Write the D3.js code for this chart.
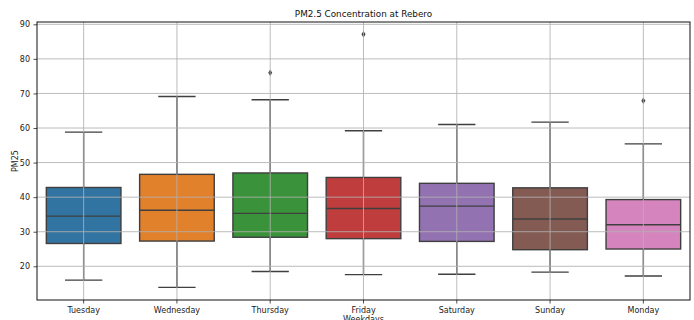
<!DOCTYPE html>
<html>
<head>
<meta charset="utf-8">
<script src="https://cdn.jsdelivr.net/npm/d3@7"></script>
<style>
  html, body { margin: 0; padding: 0; background: #fff; }
  svg { display: block; font-family: "DejaVu Sans", sans-serif; }
</style>
</head>
<body>
<svg id="chart" width="694" height="320"></svg>
<script>
// Weekly PM2.5 box-plot summaries
const days = ["Tuesday", "Wednesday", "Thursday", "Friday", "Saturday", "Sunday", "Monday"];
const whiskerLow  = [16.0, 13.9, 18.5, 17.6, 17.7, 18.3, 17.2];
const q1          = [26.6, 27.3, 28.4, 28.0, 27.2, 24.8, 25.0];
const median      = [34.5, 36.2, 35.3, 36.7, 37.4, 33.7, 32.0];
const q3          = [42.8, 46.6, 47.0, 45.7, 44.0, 42.7, 39.3];
const whiskerHigh = [58.8, 69.1, 68.2, 59.2, 61.0, 61.7, 55.4];
const outliers    = [[], [], [76.0], [87.1], [], [], [67.9]];
const colors = ["#3274a1", "#e1812c", "#3a923a", "#c03d3e", "#9372b2", "#845b53", "#d684bd"];
const yTicks = [20, 30, 40, 50, 60, 70, 80, 90];

const svg = d3.select("#chart");
const m = { left: 37, right: 690, top: 22, bottom: 300 };

const x = d3.scaleBand().domain(days).range([m.left, m.right]).paddingInner(0).paddingOuter(0);
const y = d3.scaleLinear().domain([10.25, 90.67]).range([m.bottom, m.top]);

const boxW = x.bandwidth() * 0.8;
const capW = boxW * 0.5;
const edge = "#3f3f3f";

const data = days.map((d, i) => ({
  day: d, lo: whiskerLow[i], q1: q1[i], med: median[i], q3: q3[i], hi: whiskerHigh[i],
  out: outliers[i], color: colors[i]
}));

const plot = svg.append("g");

const g = plot.selectAll("g.box").data(data).join("g").attr("class", "box")
  .attr("transform", d => `translate(${x(d.day) + x.bandwidth() / 2},0)`);

// whiskers
g.append("line").attr("x1", 0).attr("x2", 0)
  .attr("y1", d => y(d.q3)).attr("y2", d => y(d.hi))
  .attr("stroke", edge).attr("stroke-width", 1.4);
g.append("line").attr("x1", 0).attr("x2", 0)
  .attr("y1", d => y(d.q1)).attr("y2", d => y(d.lo))
  .attr("stroke", edge).attr("stroke-width", 1.4);
// caps
g.append("line").attr("x1", -capW / 2).attr("x2", capW / 2)
  .attr("y1", d => y(d.hi)).attr("y2", d => y(d.hi))
  .attr("stroke", edge).attr("stroke-width", 1.4);
g.append("line").attr("x1", -capW / 2).attr("x2", capW / 2)
  .attr("y1", d => y(d.lo)).attr("y2", d => y(d.lo))
  .attr("stroke", edge).attr("stroke-width", 1.4);
// boxes
g.append("rect").attr("x", -boxW / 2).attr("width", boxW)
  .attr("y", d => y(d.q3)).attr("height", d => y(d.q1) - y(d.q3))
  .attr("fill", d => d.color).attr("stroke", edge).attr("stroke-width", 1.4);
// medians
g.append("line").attr("x1", -boxW / 2).attr("x2", boxW / 2)
  .attr("y1", d => y(d.med)).attr("y2", d => y(d.med))
  .attr("stroke", edge).attr("stroke-width", 1.4);
// outliers (thin diamonds)
const thinDiamond = "M0,-3.3L2,0L0,3.3L-2,0Z";
g.selectAll("path.out").data(d => d.out).join("path").attr("class", "out")
  .attr("d", thinDiamond)
  .attr("transform", v => `translate(0,${y(v)})`)
  .attr("fill", edge);

// grid drawn above the boxes
const grid = svg.append("g").attr("stroke", "#b0b0b0").attr("stroke-opacity", 0.85).attr("stroke-width", 1);
grid.selectAll("line.h").data(yTicks).join("line").attr("class", "h")
  .attr("x1", m.left).attr("x2", m.right).attr("y1", v => y(v)).attr("y2", v => y(v));
grid.selectAll("line.v").data(days).join("line").attr("class", "v")
  .attr("x1", d => x(d) + x.bandwidth() / 2).attr("x2", d => x(d) + x.bandwidth() / 2)
  .attr("y1", m.top).attr("y2", m.bottom);

// axes
const xAxis = svg.append("g").attr("transform", `translate(0,${m.bottom})`)
  .call(d3.axisBottom(x).tickSize(3.5).tickSizeOuter(0).tickPadding(3.5));
const yAxis = svg.append("g").attr("transform", `translate(${m.left},0)`)
  .call(d3.axisLeft(y).tickValues(yTicks).tickSize(3.5).tickSizeOuter(0).tickPadding(3.5));
[xAxis, yAxis].forEach(a => {
  a.select(".domain").remove();
  a.selectAll(".tick line").attr("stroke", "#222").attr("stroke-width", 0.8);
  a.selectAll("text").attr("font-size", "8px").attr("fill", "#222").attr("font-family", "DejaVu Sans, sans-serif");
});

// frame
svg.append("rect").attr("x", m.left).attr("y", m.top)
  .attr("width", m.right - m.left).attr("height", m.bottom - m.top)
  .attr("fill", "none").attr("stroke", "#111").attr("stroke-width", 1);

// labels
svg.append("text").attr("x", (m.left + m.right) / 2).attr("y", 17)
  .attr("text-anchor", "middle").attr("font-size", "8.8px").attr("fill", "#111")
  .text("PM2.5 Concentration at Rebero");
svg.append("text").attr("x", (m.left + m.right) / 2).attr("y", 321.5)
  .attr("text-anchor", "middle").attr("font-size", "8px").attr("fill", "#222")
  .text("Weekdays");
svg.append("text").attr("transform", `translate(18,${(m.top + m.bottom) / 2}) rotate(-90)`)
  .attr("text-anchor", "middle").attr("font-size", "8px").attr("fill", "#222")
  .text("PM25");
</script>
</body>
</html>
